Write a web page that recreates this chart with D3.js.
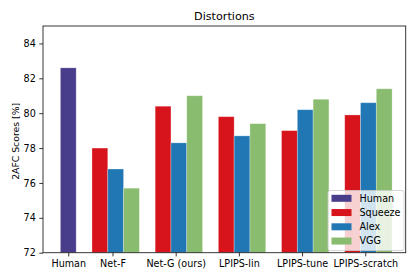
<!DOCTYPE html>
<html>
<head>
<meta charset="utf-8">
<script src="https://cdn.jsdelivr.net/npm/d3@7"></script>
<style>
  body { margin: 0; background: #fff; }
  text { font-family: "DejaVu Sans", sans-serif; fill: #000; }
</style>
</head>
<body>
<svg id="chart" width="420" height="280"></svg>
<script>
// categories and the x value (in category units) each tick sits at
var categories = ['Human', 'Net-F', 'Net-G (ours)', 'LPIPS-lin', 'LPIPS-tune', 'LPIPS-scratch']
var categoryX = [0.3, 1, 2, 3, 4, 5]
var networks = ['Squeeze', 'Alex', 'VGG']

var humanScore = 82.6
// one value per non-human category
var squeezeScores = [78.0, 80.4, 79.8, 79.0, 79.9]
var alexScores = [76.8, 78.3, 78.7, 80.2, 80.6]
var vggScores = [75.7, 81.0, 79.4, 80.8, 81.4]

var yTicks = [72, 74, 76, 78, 80, 82, 84]

var colors = {Human: '#483d8b', Squeeze: '#d7141c', Alex: '#2077b4', VGG: '#89bc6f'}

var margin = {left: 43, top: 26, right: 14.3, bottom: 27.3}
var width = 420, height = 280
var barW = 0.25

var svg = d3.select('#chart')
svg.append('rect').attr('width', width).attr('height', height).attr('fill', '#fff')

var x = d3.scaleLinear().domain([-0.1, 5.64]).range([margin.left, width - margin.right])
var y = d3.scaleLinear().domain([72, 85]).range([height - margin.bottom, margin.top])

// build bar records from the arrays
var bars = [{name: 'Human', x: categoryX[0], v: humanScore}]
var seriesVals = [squeezeScores, alexScores, vggScores]
networks.forEach(function(net, k){
  seriesVals[k].forEach(function(v, i){
    bars.push({name: net, x: categoryX[i + 1] - 0.2 + k * barW, v: v})
  })
})

svg.append('g').selectAll('rect')
  .data(bars)
  .join('rect')
  .attr('x', d => x(d.x - barW / 2))
  .attr('width', d => x(d.x + barW / 2) - x(d.x - barW / 2))
  .attr('y', d => y(d.v))
  .attr('height', d => y(72) - y(d.v))
  .attr('fill', d => colors[d.name])
  .attr('stroke', '#fff')
  .attr('stroke-opacity', 0.35)
  .attr('stroke-width', 0.8)

// axes
var yAxis = d3.axisLeft(y).tickValues(yTicks).tickSize(3.7).tickPadding(3.5)
var yg = svg.append('g').attr('transform', 'translate(' + margin.left + ',0)').call(yAxis)
var xAxis = d3.axisBottom(x).tickValues(categoryX)
  .tickFormat((d, i) => categories[i]).tickSize(3.7).tickPadding(3.5)
var xg = svg.append('g').attr('transform', 'translate(0,' + (height - margin.bottom) + ')').call(xAxis)

;[yg, xg].forEach(function(g){
  g.select('.domain').remove()
  g.selectAll('.tick line').attr('stroke', '#000').attr('stroke-width', 0.8)
  g.selectAll('.tick text').attr('font-size', 9.6).attr('font-family', 'DejaVu Sans').attr('fill', '#000')
})

// frame
svg.append('rect')
  .attr('x', margin.left).attr('y', margin.top)
  .attr('width', width - margin.right - margin.left)
  .attr('height', height - margin.bottom - margin.top)
  .attr('fill', 'none').attr('stroke', '#222').attr('stroke-width', 0.9)

svg.append('text')
  .attr('x', (margin.left + width - margin.right) / 2)
  .attr('y', 19.5)
  .attr('text-anchor', 'middle')
  .attr('font-size', 11.2)
  .text('Distortions')

svg.append('text')
  .attr('transform', 'translate(15,' + ((margin.top + height - margin.bottom) / 2 + 2) + ') rotate(-90)')
  .attr('text-anchor', 'middle')
  .attr('dominant-baseline', 'central')
  .attr('font-size', 9.3)
  .text('2AFC Scores [%]')

// legend
var legendNames = ['Human'].concat(networks)
var lg = svg.append('g').attr('transform', 'translate(328,190.5)')
lg.append('rect')
  .attr('width', 76).attr('height', 60).attr('rx', 2)
  .attr('fill', '#fff').attr('fill-opacity', 0.8)
  .attr('stroke', '#ccc').attr('stroke-width', 0.8)

var item = lg.selectAll('g.item')
  .data(legendNames)
  .join('g')
  .attr('class', 'item')
  .attr('transform', (d, i) => 'translate(0,' + (7.8 + i * 14.25) + ')')

item.append('rect')
  .attr('x', 3.5).attr('y', -3.5).attr('width', 20).attr('height', 7)
  .attr('fill', d => colors[d])

item.append('text')
  .attr('x', 31.5).attr('dy', '0.35em')
  .attr('font-size', 9.6)
  .text(d => d)
</script>
</body>
</html>
